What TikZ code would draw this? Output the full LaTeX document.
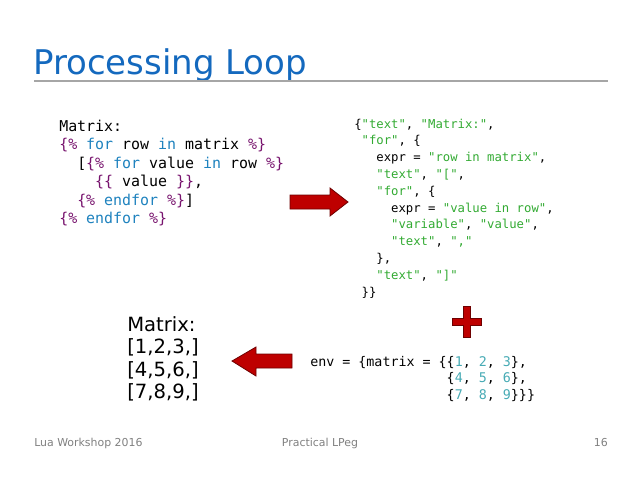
\documentclass[tikz,border=0pt]{standalone}
\usepackage{fontspec}
\setmainfont{DejaVu Sans}
\setmonofont{DejaVu Sans Mono}
\definecolor{ttl}{RGB}{20,105,190}
\definecolor{pur}{RGB}{120,20,110}
\definecolor{kw}{RGB}{30,130,190}
\definecolor{str}{RGB}{50,170,50}
\definecolor{num}{RGB}{70,170,180}
\definecolor{arr}{RGB}{190,0,0}
\definecolor{arre}{RGB}{110,0,0}
\newcommand{\cP}[1]{\textcolor{pur}{#1}}
\newcommand{\cK}[1]{\textcolor{kw}{#1}}
\newcommand{\cS}[1]{\textcolor{str}{#1}}
\newcommand{\cN}[1]{\textcolor{num}{#1}}
\begin{document}
\begin{tikzpicture}[x=0.75pt,y=-0.75pt,
  cl/.style={anchor=base west,inner sep=0,font=\ttfamily\fontsize{11.2}{13}\selectfont},
  cr/.style={anchor=base west,inner sep=0,font=\ttfamily\fontsize{9.2}{11}\selectfont},
  ce/.style={anchor=base west,inner sep=0,font=\ttfamily\fontsize{10}{12}\selectfont},
  outtxt/.style={anchor=base west,inner sep=0,font=\fontsize{14.7}{17}\selectfont},
  foot/.style={inner sep=0,anchor=base,font=\fontsize{8.2}{10}\selectfont,text=gray},
  bigarr/.style={fill=arr,draw=arre,line width=0.6pt}]
\useasboundingbox (0,0) rectangle (638,493);
\node[anchor=base west,inner sep=0,text=ttl,font=\fontsize{25.5}{30}\selectfont] (title) at (33,74) {Processing Loop};
\draw[gray!70,line width=0.8pt] (34,81) -- (608,81);
% left code
\node[cl] (l1) at (59,131) {Matrix:};
\node[cl] (l2) at (59,149.5) {\cP{\{\%} \cK{for} row \cK{in} matrix \cP{\%\}}};
\node[cl] (l3) at (59,168) {\ \ [\cP{\{\%} \cK{for} value \cK{in} row \cP{\%\}}};
\node[cl] (l4) at (59,186.5) {\ \ \ \ \cP{\{\{} value \cP{\}\}},};
\node[cl] (l5) at (59,205) {\ \ \cP{\{\%} \cK{endfor} \cP{\%\}}]};
\node[cl] (l6) at (59,223.5) {\cP{\{\%} \cK{endfor} \cP{\%\}}};
% right code
\node[cr] (r1) at (354,128) {\{\cS{"text"}, \cS{"Matrix:"},};
\node[cr] (r2) at (354,144.8) {\ \cS{"for"}, \{};
\node[cr] (r3) at (354,161.6) {\ \ \ expr = \cS{"row in matrix"},};
\node[cr] (r4) at (354,178.4) {\ \ \ \cS{"text"}, \cS{"["},};
\node[cr] (r5) at (354,195.2) {\ \ \ \cS{"for"}, \{};
\node[cr] (r6) at (354,212) {\ \ \ \ \ expr = \cS{"value in row"},};
\node[cr] (r7) at (354,228.8) {\ \ \ \ \ \cS{"variable"}, \cS{"value"},};
\node[cr] (r8) at (354,245.6) {\ \ \ \ \ \cS{"text"}, \cS{","}};
\node[cr] (r9) at (354,262.4) {\ \ \ \},};
\node[cr] (r10) at (354,279.2) {\ \ \ \cS{"text"}, \cS{"]"}};
\node[cr] (r11) at (354,296) {\ \}\}};
% env
\node[ce] (e1) at (310,366) {env = \{matrix = \{\{\cN{1}, \cN{2}, \cN{3}\},};
\node[ce] (e2) at (310,382.7) {\phantom{env = \{matrix = \{}\{\cN{4}, \cN{5}, \cN{6}\},};
\node[ce] (e3) at (310,399.4) {\phantom{env = \{matrix = \{}\{\cN{7}, \cN{8}, \cN{9}\}\}\}};
% output
\node[outtxt] (o1) at (127,331) {Matrix:};
\node[outtxt] (o2) at (127,353.5) {[1,2,3,]};
\node[outtxt] (o3) at (127,376) {[4,5,6,]};
\node[outtxt] (o4) at (127,398.5) {[7,8,9,]};
% arrows
\filldraw[bigarr] (290,195) -- (330,195) -- (330,188) -- (348,202) -- (330,216) -- (330,209) -- (290,209) -- cycle;
\filldraw[bigarr] (292,354) -- (256,354) -- (256,347) -- (232,361) -- (256,376) -- (256,368) -- (292,368) -- cycle;
\filldraw[bigarr] (463,306) -- (470,306) -- (470,318) -- (481,318) -- (481,325) -- (470,325) -- (470,337) -- (463,337) -- (463,325) -- (452,325) -- (452,318) -- (463,318) -- cycle;
% footer
\node[foot,anchor=base west] (f1) at (34,446) {Lua Workshop 2016};
\node[foot] (f2) at (320,446) {Practical LPeg};
\node[foot,anchor=base east] (f3) at (608,446) {16};
\end{tikzpicture}
\end{document}
